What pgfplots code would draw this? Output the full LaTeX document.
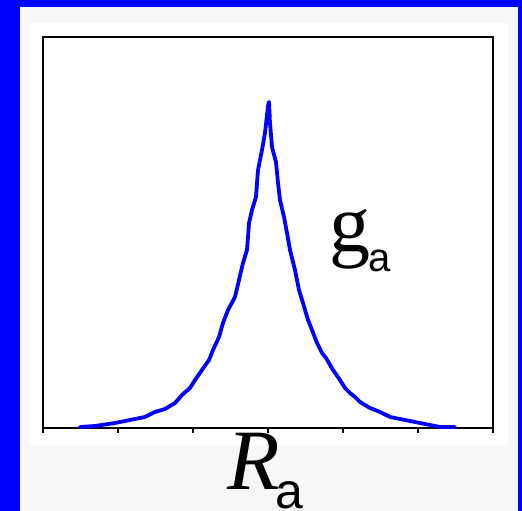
\documentclass[border=0pt]{standalone}
\usepackage{pgfplots}
\pgfplotsset{compat=1.18}
\usepackage{fontspec}
\setmainfont{Liberation Serif}
\newfontfamily\subfont{Liberation Sans}
\definecolor{pureblue}{RGB}{0,0,255}
\definecolor{panelgray}{RGB}{247,247,247}

% Peak-shaped distribution g_a over R_a
\pgfplotstableread{
x y
80 1
95 2
115 5
125 7
135 9
145 11
155 16
165 19
175 25
182 33
190 40
195 48
202 58
209 68
213 78
219 91
223 105
228 118
235 131
239 148
243 165
247 178
248 191
249 205
252 218
256 231
258 258
262 278
265 295
268 322
269 326
270 305
272 281
276 266
278 245
280 228
284 211
287 195
290 178
295 158
299 138
303 125
308 108
312 98
317 85
322 75
326 70
333 58
340 48
345 40
350 35
355 31
360 26
370 20
380 16
390 11
400 9
410 7
420 5
430 3
440 1
455 1
}\gdata

\begin{document}
\begin{tikzpicture}[x=1pt,y=1pt]
\path[use as bounding box] (0,0) rectangle (522,511);
\clip (0,0) rectangle (522,511);
% frame and panels
\fill[pureblue] (0,0) rectangle (522,511);
\fill[panelgray] (20,0) rectangle (518,504);
\fill[white] (29,66) rectangle (508,488);
\begin{axis}[
  at={(43,83)}, anchor=south west,
  scale only axis, width=450pt, height=391pt,
  xmin=43, xmax=493, ymin=0, ymax=391,
  axis line style={line width=2.2pt, black},
  xtick={43,118,193,268,343,418,493},
  xticklabels={},
  ytick=\empty,
  tick pos=bottom, tick align=outside,
  major tick length=5pt,
  tick style={line width=2pt, black},
  axis background/.style={fill=white},
  clip=false,
]
\addplot[pureblue, line width=3.8pt, line join=round, line cap=round] table[x=x, y=y] {\gdata};
\end{axis}
% labels
\node[anchor=base west, inner sep=0pt] at (329,259)
  {\fontsize{82}{86}\selectfont g};
\node[anchor=base west, inner sep=0pt] at (368,239)
  {\fontsize{40}{42}\selectfont\subfont a};
\node[anchor=base west, inner sep=0pt] at (227,21)
  {\fontsize{86}{90}\selectfont\itshape R};
\node[anchor=base west, inner sep=0pt] at (275,2)
  {\fontsize{50}{54}\selectfont\subfont a};
\end{tikzpicture}
\end{document}
